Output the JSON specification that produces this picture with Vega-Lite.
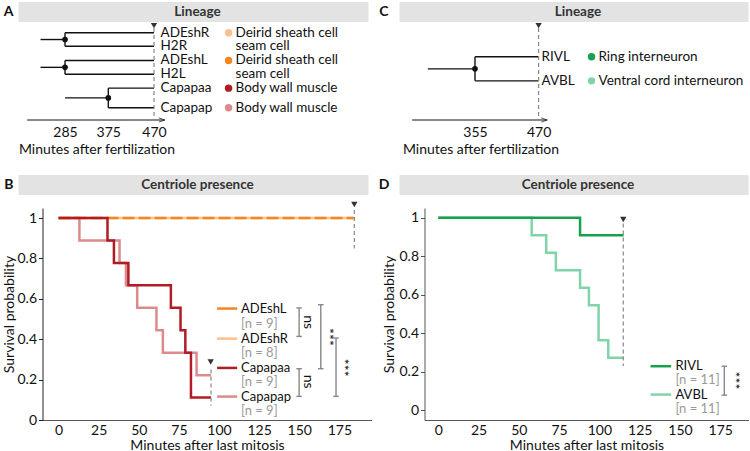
{
  "$schema": "https://vega.github.io/schema/vega-lite/v6.json",
  "background": "white",
  "padding": {"left": 2.5, "top": 2, "right": 0, "bottom": 0},
  "spacing": 7,
  "hconcat": [
    {
      "spacing": 19,
      "vconcat": [
        {
          "spacing": 2,
          "bounds": "flush",
          "vconcat": [
            {
              "width": 350, "height": 20,
              "view": {"fill": "#e3e3e3", "stroke": null},
              "title": {"text": "A", "orient": "left", "angle": 0, "align": "left", "baseline": "middle", "offset": 5, "fontSize": 14, "fontWeight": "bold", "color": "#111"},
              "data": {"values": [{"t": "Lineage"}]},
              "mark": {"type": "text", "fontWeight": "bold", "fontSize": 13.5, "color": "#333", "dx": 4},
              "encoding": {"text": {"field": "t"}}
            },
            {
              "width": 156, "height": 96,
              "layer": [
                {
                  "data": {"name": "treeA"},
                  "mark": {"type": "rule", "stroke": "#111", "strokeWidth": 1.4},
                  "encoding": {
                    "x": {"field": "x", "type": "quantitative", "scale": {"domain": [188.3, 512.6], "nice": false, "zero": false},
                      "axis": {"values": [285, 375, 470], "format": "d", "domain": false, "ticks": false, "labelPadding": 5, "title": "Minutes after fertilization", "titlePadding": 3}},
                    "x2": {"field": "x2"},
                    "y": {"field": "y", "type": "quantitative", "scale": {"domain": [-0.65, 6.46], "reverse": true, "nice": false, "zero": false}, "axis": null},
                    "y2": {"field": "y2"}
                  }
                },
                {
                  "data": {"values": [{}]},
                  "mark": {"type": "rule", "stroke": "#111", "strokeWidth": 1},
                  "encoding": {"x": {"datum": 206.4}, "x2": {"datum": 492.4}, "y": {"datum": 6.46, "axis": null}}
                },
                {
                  "data": {"values": [{}]},
                  "mark": {"type": "point", "shape": "M-1,-0.35L0,0L-1,0.35", "filled": false, "size": 144, "stroke": "#111", "strokeWidth": 1},
                  "encoding": {"x": {"datum": 492.4}, "y": {"datum": 6.46, "axis": null}}
                },
                {
                  "data": {"values": [{}]},
                  "mark": {"type": "rule", "stroke": "#888", "strokeWidth": 1.2, "strokeDash": [4, 3]},
                  "encoding": {"x": {"datum": 470}, "y": {"datum": -0.35, "axis": null}, "y2": {"datum": 6.46}}
                },
                {
                  "data": {"values": [{}]},
                  "mark": {"type": "point", "shape": "triangle-down", "filled": true, "size": 40, "color": "#333", "opacity": 1},
                  "encoding": {"x": {"datum": 470}, "y": {"datum": -0.53, "axis": null}}
                },
                {
                  "data": {"name": "nodesA"},
                  "mark": {"type": "point", "filled": true, "size": 32, "color": "#111", "opacity": 1},
                  "encoding": {"x": {"field": "x", "type": "quantitative"}, "y": {"field": "y", "type": "quantitative", "axis": null}}
                },
                {
                  "data": {"name": "cellsA"},
                  "mark": {"type": "text", "align": "left", "baseline": "middle", "fontSize": 13.5, "color": "#111"},
                  "encoding": {"x": {"datum": 483.5}, "y": {"field": "y", "type": "quantitative", "axis": null}, "text": {"field": "name"}}
                },
                {
                  "data": {"name": "descA"},
                  "mark": {"type": "text", "align": "left", "baseline": "middle", "fontSize": 13.5, "color": "#111"},
                  "encoding": {"x": {"datum": 639.5}, "y": {"field": "y", "type": "quantitative", "axis": null}, "text": {"field": "desc"}}
                },
                {
                  "data": {"name": "dotsA"},
                  "mark": {"type": "point", "filled": true, "size": 55, "opacity": 1},
                  "encoding": {"x": {"datum": 625}, "y": {"field": "y", "type": "quantitative", "axis": null},
                    "color": {"field": "cell", "type": "nominal", "scale": {"domain": ["ADEshL", "ADEshR", "Capapaa", "Capapap", "RIVL", "AVBL"], "range": ["#f7851e", "#fdc08a", "#b01c24", "#db8b8b", "#17a14f", "#80d4a8"]}, "legend": null}}
                }
              ]
            }
          ]
        },
        {
          "spacing": 13,
          "bounds": "flush",
          "vconcat": [
            {
              "width": 350, "height": 20,
              "view": {"fill": "#e3e3e3", "stroke": null},
              "title": {"text": "B", "orient": "left", "angle": 0, "align": "left", "baseline": "middle", "offset": 5, "fontSize": 14, "fontWeight": "bold", "color": "#111"},
              "data": {"values": [{"t": "Centriole presence"}]},
              "mark": {"type": "text", "fontWeight": "bold", "fontSize": 13.5, "color": "#333", "dx": 4},
              "encoding": {"text": {"field": "t"}}
            },
            {
              "width": 353, "height": 212,
              "layer": [
                {
                  "data": {"name": "survB"},
                  "mark": {"type": "line", "interpolate": "step-after", "strokeWidth": 2.5},
                  "encoding": {
                    "x": {"field": "t", "type": "quantitative", "scale": {"domain": [-10, 195], "range": [24, 353], "nice": false, "zero": false},
                      "axis": {"values": [0, 25, 50, 75, 100, 125, 150, 175], "format": "d", "ticks": false, "labelPadding": 3, "title": "Minutes after last mitosis", "titlePadding": 1, "domainColor": "#555"}},
                    "y": {"field": "s", "type": "quantitative", "scale": {"domain": [0, 1.05], "nice": false, "zero": false},
                      "axis": {"values": [0, 0.2, 0.4, 0.6, 0.8, 1], "format": "~g", "offset": -24, "tickSize": 4, "labelPadding": 2, "title": "Survival probability", "titlePadding": 0}},
                    "color": {"field": "cell", "type": "nominal", "scale": {"domain": ["ADEshL", "ADEshR", "Capapaa", "Capapap", "RIVL", "AVBL"], "range": ["#f7851e", "#fdc08a", "#b01c24", "#db8b8b", "#17a14f", "#80d4a8"]}, "legend": null},
                    "strokeDash": {"field": "cell", "type": "nominal", "scale": {"domain": ["ADEshL", "ADEshR", "Capapaa", "Capapap"], "range": [[12, 4], [1, 0], [1, 0], [1, 0]]}, "legend": null}
                  }
                },
                {
                  "data": {"name": "dashB"},
                  "mark": {"type": "rule", "stroke": "#888", "strokeWidth": 1.2, "strokeDash": [4, 3]},
                  "encoding": {"x": {"field": "t", "type": "quantitative"}, "y": {"field": "y1", "type": "quantitative"}, "y2": {"field": "y2"}}
                },
                {
                  "data": {"name": "triB"},
                  "mark": {"type": "point", "shape": "triangle-down", "filled": true, "size": 40, "color": "#333", "opacity": 1},
                  "encoding": {"x": {"field": "t", "type": "quantitative"}, "y": {"field": "s", "type": "quantitative"}}
                },
                {
                  "data": {"name": "legB"},
                  "mark": {"type": "rule", "strokeWidth": 2.5},
                  "encoding": {"x": {"datum": 98.8}, "x2": {"datum": 111.3}, "y": {"field": "y", "type": "quantitative"},
                    "color": {"field": "cell", "type": "nominal", "legend": null}}
                },
                {
                  "data": {"name": "legB"},
                  "mark": {"type": "text", "align": "left", "baseline": "middle", "fontSize": 13, "color": "#111"},
                  "encoding": {"x": {"datum": 113.7}, "y": {"field": "y", "type": "quantitative"}, "text": {"field": "cell"}}
                },
                {
                  "data": {"name": "legB"},
                  "mark": {"type": "text", "align": "left", "baseline": "middle", "fontSize": 13, "color": "#9a9a9a"},
                  "encoding": {"x": {"datum": 113.7}, "y": {"field": "yn", "type": "quantitative"}, "text": {"field": "n"}}
                },
                {
                  "data": {"name": "sigB"},
                  "mark": {"type": "rule", "stroke": "#888", "strokeWidth": 1.4},
                  "encoding": {"x": {"field": "x", "type": "quantitative"}, "y": {"field": "y1", "type": "quantitative"}, "y2": {"field": "y2"}}
                },
                {
                  "data": {"name": "sigB"},
                  "mark": {"type": "point", "shape": "stroke", "size": 30, "stroke": "#888", "strokeWidth": 1.4, "opacity": 1},
                  "encoding": {"x": {"field": "x", "type": "quantitative"}, "y": {"field": "y1", "type": "quantitative"}}
                },
                {
                  "data": {"name": "sigB"},
                  "mark": {"type": "point", "shape": "stroke", "size": 30, "stroke": "#888", "strokeWidth": 1.4, "opacity": 1},
                  "encoding": {"x": {"field": "x", "type": "quantitative"}, "y": {"field": "y2", "type": "quantitative"}}
                },
                {
                  "data": {"name": "sigB"},
                  "mark": {"type": "text", "angle": 90, "align": "center", "baseline": "middle", "fontSize": 14, "color": "#111"},
                  "encoding": {"x": {"field": "lx", "type": "quantitative"}, "y": {"field": "ly", "type": "quantitative"}, "text": {"field": "lab"}}
                }
              ]
            }
          ]
        }
      ]
    },
    {
      "spacing": 19,
      "vconcat": [
        {
          "spacing": 2,
          "bounds": "flush",
          "vconcat": [
            {
              "width": 349, "height": 20,
              "view": {"fill": "#e3e3e3", "stroke": null},
              "title": {"text": "C", "orient": "left", "angle": 0, "align": "left", "baseline": "middle", "offset": 11, "fontSize": 14, "fontWeight": "bold", "color": "#111"},
              "data": {"values": [{"t": "Lineage"}]},
              "mark": {"type": "text", "fontWeight": "bold", "fontSize": 13.5, "color": "#333", "dx": 4},
              "encoding": {"text": {"field": "t"}}
            },
            {
              "width": 162, "height": 96,
              "layer": [
                {
                  "data": {"name": "treeC"},
                  "mark": {"type": "rule", "stroke": "#111", "strokeWidth": 1.4},
                  "encoding": {
                    "x": {"field": "x", "type": "quantitative", "scale": {"domain": [218.5, 511.4], "nice": false, "zero": false},
                      "axis": {"values": [355, 470], "format": "d", "domain": false, "ticks": false, "labelPadding": 5, "title": "Minutes after fertilization", "titlePadding": 3}},
                    "x2": {"field": "x2"},
                    "y": {"field": "y", "type": "quantitative", "scale": {"domain": [-0.65, 6.46], "reverse": true, "nice": false, "zero": false}, "axis": null},
                    "y2": {"field": "y2"}
                  }
                },
                {
                  "data": {"values": [{}]},
                  "mark": {"type": "rule", "stroke": "#111", "strokeWidth": 1},
                  "encoding": {"x": {"datum": 241.4}, "x2": {"datum": 485.6}, "y": {"datum": 6.46, "axis": null}}
                },
                {
                  "data": {"values": [{}]},
                  "mark": {"type": "point", "shape": "M-1,-0.35L0,0L-1,0.35", "filled": false, "size": 144, "stroke": "#111", "strokeWidth": 1},
                  "encoding": {"x": {"datum": 485.6}, "y": {"datum": 6.46, "axis": null}}
                },
                {
                  "data": {"values": [{}]},
                  "mark": {"type": "rule", "stroke": "#888", "strokeWidth": 1.2, "strokeDash": [4, 3]},
                  "encoding": {"x": {"datum": 470}, "y": {"datum": -0.35, "axis": null}, "y2": {"datum": 6.46}}
                },
                {
                  "data": {"values": [{}]},
                  "mark": {"type": "point", "shape": "triangle-down", "filled": true, "size": 40, "color": "#333", "opacity": 1},
                  "encoding": {"x": {"datum": 470}, "y": {"datum": -0.53, "axis": null}}
                },
                {
                  "data": {"values": [{"x": 355, "y": 2.67}]},
                  "mark": {"type": "point", "filled": true, "size": 32, "color": "#111", "opacity": 1},
                  "encoding": {"x": {"field": "x", "type": "quantitative"}, "y": {"field": "y", "type": "quantitative", "axis": null}}
                },
                {
                  "data": {"name": "cellsC"},
                  "mark": {"type": "text", "align": "left", "baseline": "middle", "fontSize": 13.5, "color": "#111"},
                  "encoding": {"x": {"datum": 475.3}, "y": {"field": "y", "type": "quantitative", "axis": null}, "text": {"field": "cell"}}
                },
                {
                  "data": {"name": "cellsC"},
                  "mark": {"type": "text", "align": "left", "baseline": "middle", "fontSize": 13.5, "color": "#111"},
                  "encoding": {"x": {"datum": 578.3}, "y": {"field": "y", "type": "quantitative", "axis": null}, "text": {"field": "desc"}}
                },
                {
                  "data": {"name": "cellsC"},
                  "mark": {"type": "point", "filled": true, "size": 55, "opacity": 1},
                  "encoding": {"x": {"datum": 565.7}, "y": {"field": "y", "type": "quantitative", "axis": null},
                    "color": {"field": "cell", "type": "nominal", "legend": null}}
                }
              ]
            }
          ]
        },
        {
          "spacing": 13,
          "bounds": "flush",
          "vconcat": [
            {
              "width": 349, "height": 20,
              "view": {"fill": "#e3e3e3", "stroke": null},
              "title": {"text": "D", "orient": "left", "angle": 0, "align": "left", "baseline": "middle", "offset": 10, "fontSize": 14, "fontWeight": "bold", "color": "#111"},
              "data": {"values": [{"t": "Centriole presence"}]},
              "mark": {"type": "text", "fontWeight": "bold", "fontSize": 13.5, "color": "#333", "dx": 4},
              "encoding": {"text": {"field": "t"}}
            },
            {
              "width": 349, "height": 212,
              "layer": [
                {
                  "data": {"name": "survD"},
                  "mark": {"type": "line", "interpolate": "step-after", "strokeWidth": 2.5},
                  "encoding": {
                    "x": {"field": "t", "type": "quantitative", "scale": {"domain": [-8.5, 192.5], "range": [25, 349], "nice": false, "zero": false},
                      "axis": {"values": [0, 25, 50, 75, 100, 125, 150, 175], "format": "d", "ticks": false, "labelPadding": 3, "title": "Minutes after last mitosis", "titlePadding": 1, "domainColor": "#555"}},
                    "y": {"field": "s", "type": "quantitative", "scale": {"domain": [-0.05, 1.05], "nice": false, "zero": false},
                      "axis": {"values": [0, 0.2, 0.4, 0.6, 0.8, 1], "format": "~g", "offset": -25, "tickSize": 4, "labelPadding": 2, "title": "Survival probability", "titlePadding": 2, "tickColor": "#555", "domainColor": "#555"}},
                    "color": {"field": "cell", "type": "nominal", "legend": null}
                  }
                },
                {
                  "data": {"values": [{}]},
                  "mark": {"type": "rule", "stroke": "#888", "strokeWidth": 1.2, "strokeDash": [4, 3]},
                  "encoding": {"x": {"datum": 114.8}, "y": {"datum": 0.97}, "y2": {"datum": 0.23}}
                },
                {
                  "data": {"values": [{}]},
                  "mark": {"type": "point", "shape": "triangle-down", "filled": true, "size": 40, "color": "#333", "opacity": 1},
                  "encoding": {"x": {"datum": 114.8}, "y": {"datum": 0.99}}
                },
                {
                  "data": {"name": "legD"},
                  "mark": {"type": "rule", "strokeWidth": 2.5},
                  "encoding": {"x": {"datum": 131.7}, "x2": {"datum": 144.5}, "y": {"field": "y", "type": "quantitative"},
                    "color": {"field": "cell", "type": "nominal", "legend": null}}
                },
                {
                  "data": {"name": "legD"},
                  "mark": {"type": "text", "align": "left", "baseline": "middle", "fontSize": 13, "color": "#111"},
                  "encoding": {"x": {"datum": 147.2}, "y": {"field": "y", "type": "quantitative"}, "text": {"field": "cell"}}
                },
                {
                  "data": {"name": "legD"},
                  "mark": {"type": "text", "align": "left", "baseline": "middle", "fontSize": 13, "color": "#9a9a9a"},
                  "encoding": {"x": {"datum": 147.2}, "y": {"field": "yn", "type": "quantitative"}, "text": {"field": "n"}}
                },
                {
                  "data": {"name": "sigD"},
                  "mark": {"type": "rule", "stroke": "#888", "strokeWidth": 1.4},
                  "encoding": {"x": {"field": "x", "type": "quantitative"}, "y": {"field": "y1", "type": "quantitative"}, "y2": {"field": "y2"}}
                },
                {
                  "data": {"name": "sigD"},
                  "mark": {"type": "point", "shape": "stroke", "size": 30, "stroke": "#888", "strokeWidth": 1.4, "opacity": 1},
                  "encoding": {"x": {"field": "x", "type": "quantitative"}, "y": {"field": "y1", "type": "quantitative"}}
                },
                {
                  "data": {"name": "sigD"},
                  "mark": {"type": "point", "shape": "stroke", "size": 30, "stroke": "#888", "strokeWidth": 1.4, "opacity": 1},
                  "encoding": {"x": {"field": "x", "type": "quantitative"}, "y": {"field": "y2", "type": "quantitative"}}
                },
                {
                  "data": {"name": "sigD"},
                  "mark": {"type": "text", "angle": 90, "align": "center", "baseline": "middle", "fontSize": 14, "color": "#111"},
                  "encoding": {"x": {"field": "lx", "type": "quantitative"}, "y": {"field": "ly", "type": "quantitative"}, "text": {"field": "lab"}}
                }
              ]
            }
          ]
        }
      ]
    }
  ],
  "datasets": {
    "treeA": [
      {"x": 234.1, "x2": 285, "y": 0.5, "y2": 0.5},
      {"x": 285, "x2": 285, "y": 0, "y2": 1},
      {"x": 285, "x2": 470, "y": 0, "y2": 0},
      {"x": 285, "x2": 470, "y": 1, "y2": 1},
      {"x": 234.1, "x2": 285, "y": 2.56, "y2": 2.56},
      {"x": 285, "x2": 285, "y": 2.05, "y2": 3.07},
      {"x": 285, "x2": 470, "y": 2.05, "y2": 2.05},
      {"x": 285, "x2": 470, "y": 3.07, "y2": 3.07},
      {"x": 285, "x2": 375, "y": 4.825, "y2": 4.825},
      {"x": 375, "x2": 375, "y": 4.1, "y2": 5.55},
      {"x": 375, "x2": 470, "y": 4.1, "y2": 4.1},
      {"x": 375, "x2": 470, "y": 5.55, "y2": 5.55}
    ],
    "nodesA": [
      {"x": 285, "y": 0.5},
      {"x": 285, "y": 2.56},
      {"x": 375, "y": 4.825}
    ],
    "cellsA": [
      {"name": "ADEshR", "y": 0},
      {"name": "H2R", "y": 1},
      {"name": "ADEshL", "y": 2.05},
      {"name": "H2L", "y": 3.07},
      {"name": "Capapaa", "y": 4.1},
      {"name": "Capapap", "y": 5.55}
    ],
    "descA": [
      {"desc": "Deirid sheath cell", "y": 0},
      {"desc": "seam cell", "y": 1},
      {"desc": "Deirid sheath cell", "y": 2.05},
      {"desc": "seam cell", "y": 3.07},
      {"desc": "Body wall muscle", "y": 4.1},
      {"desc": "Body wall muscle", "y": 5.55}
    ],
    "dotsA": [
      {"cell": "ADEshR", "y": 0},
      {"cell": "ADEshL", "y": 2.05},
      {"cell": "Capapaa", "y": 4.1},
      {"cell": "Capapap", "y": 5.55}
    ],
    "treeC": [
      {"x": 269.6, "x2": 355, "y": 2.67, "y2": 2.67},
      {"x": 355, "x2": 355, "y": 1.78, "y2": 3.56},
      {"x": 355, "x2": 470, "y": 1.78, "y2": 1.78},
      {"x": 355, "x2": 470, "y": 3.56, "y2": 3.56}
    ],
    "cellsC": [
      {"cell": "RIVL", "desc": "Ring interneuron", "y": 1.78},
      {"cell": "AVBL", "desc": "Ventral cord interneuron", "y": 3.56}
    ],
    "survB": [
      {"cell": "ADEshR", "t": 0, "s": 1}, {"cell": "ADEshR", "t": 184, "s": 1},
      {"cell": "ADEshL", "t": 0, "s": 1}, {"cell": "ADEshL", "t": 184, "s": 1},
      {"cell": "Capapap", "t": 0, "s": 1}, {"cell": "Capapap", "t": 13, "s": 0.889}, {"cell": "Capapap", "t": 38, "s": 0.778}, {"cell": "Capapap", "t": 42, "s": 0.667}, {"cell": "Capapap", "t": 49, "s": 0.556}, {"cell": "Capapap", "t": 61, "s": 0.444}, {"cell": "Capapap", "t": 65, "s": 0.333}, {"cell": "Capapap", "t": 86, "s": 0.222}, {"cell": "Capapap", "t": 95, "s": 0.222},
      {"cell": "Capapaa", "t": 0, "s": 1}, {"cell": "Capapaa", "t": 30.5, "s": 0.889}, {"cell": "Capapaa", "t": 34.5, "s": 0.778}, {"cell": "Capapaa", "t": 43.5, "s": 0.667}, {"cell": "Capapaa", "t": 70, "s": 0.556}, {"cell": "Capapaa", "t": 76, "s": 0.444}, {"cell": "Capapaa", "t": 79, "s": 0.333}, {"cell": "Capapaa", "t": 82.5, "s": 0.111}, {"cell": "Capapaa", "t": 95, "s": 0.111}
    ],
    "dashB": [
      {"t": 95, "y1": 0.25, "y2": 0.07},
      {"t": 184.3, "y1": 1.04, "y2": 0.85}
    ],
    "triB": [
      {"t": 94.8, "s": 0.287},
      {"t": 184.3, "s": 1.067}
    ],
    "legB": [
      {"cell": "ADEshL", "n": "[n = 9]", "y": 0.552, "yn": 0.477},
      {"cell": "ADEshR", "n": "[n = 8]", "y": 0.403, "yn": 0.331},
      {"cell": "Capapaa", "n": "[n = 9]", "y": 0.258, "yn": 0.187},
      {"cell": "Capapap", "n": "[n = 9]", "y": 0.116, "yn": 0.047}
    ],
    "sigB": [
      {"x": 149.9, "y1": 0.555, "y2": 0.414, "lab": "ns", "lx": 155.7, "ly": 0.485},
      {"x": 149.9, "y1": 0.254, "y2": 0.117, "lab": "ns", "lx": 155.7, "ly": 0.19},
      {"x": 163.4, "y1": 0.571, "y2": 0.254, "lab": "***", "lx": 168.1, "ly": 0.411},
      {"x": 172.9, "y1": 0.406, "y2": 0.117, "lab": "***", "lx": 177.1, "ly": 0.259}
    ],
    "survD": [
      {"cell": "AVBL", "t": 0, "s": 1}, {"cell": "AVBL", "t": 58, "s": 0.909}, {"cell": "AVBL", "t": 67, "s": 0.818}, {"cell": "AVBL", "t": 73, "s": 0.727}, {"cell": "AVBL", "t": 88, "s": 0.636}, {"cell": "AVBL", "t": 93.5, "s": 0.545}, {"cell": "AVBL", "t": 99.5, "s": 0.364}, {"cell": "AVBL", "t": 105.5, "s": 0.273}, {"cell": "AVBL", "t": 115, "s": 0.273},
      {"cell": "RIVL", "t": 0, "s": 1}, {"cell": "RIVL", "t": 88, "s": 0.909}, {"cell": "RIVL", "t": 115, "s": 0.909}
    ],
    "legD": [
      {"cell": "RIVL", "n": "[n = 11]", "y": 0.229, "yn": 0.155},
      {"cell": "AVBL", "n": "[n =  11]", "y": 0.082, "yn": 0.009}
    ],
    "sigD": [
      {"x": 177.5, "y1": 0.229, "y2": 0.079, "lab": "***", "lx": 183.5, "ly": 0.155}
    ]
  },
  "config": {
    "font": "Lato",
    "view": {"stroke": null},
    "legend": {"disable": true},
    "axis": {"labelFont": "Lato", "titleFont": "Lato", "labelFontSize": 14, "titleFontSize": 14, "titleFontWeight": "normal", "labelColor": "#111", "titleColor": "#111", "domainColor": "#222", "tickColor": "#222", "grid": false},
    "title": {"font": "Lato"},
    "text": {"font": "Lato"}
  }
}
